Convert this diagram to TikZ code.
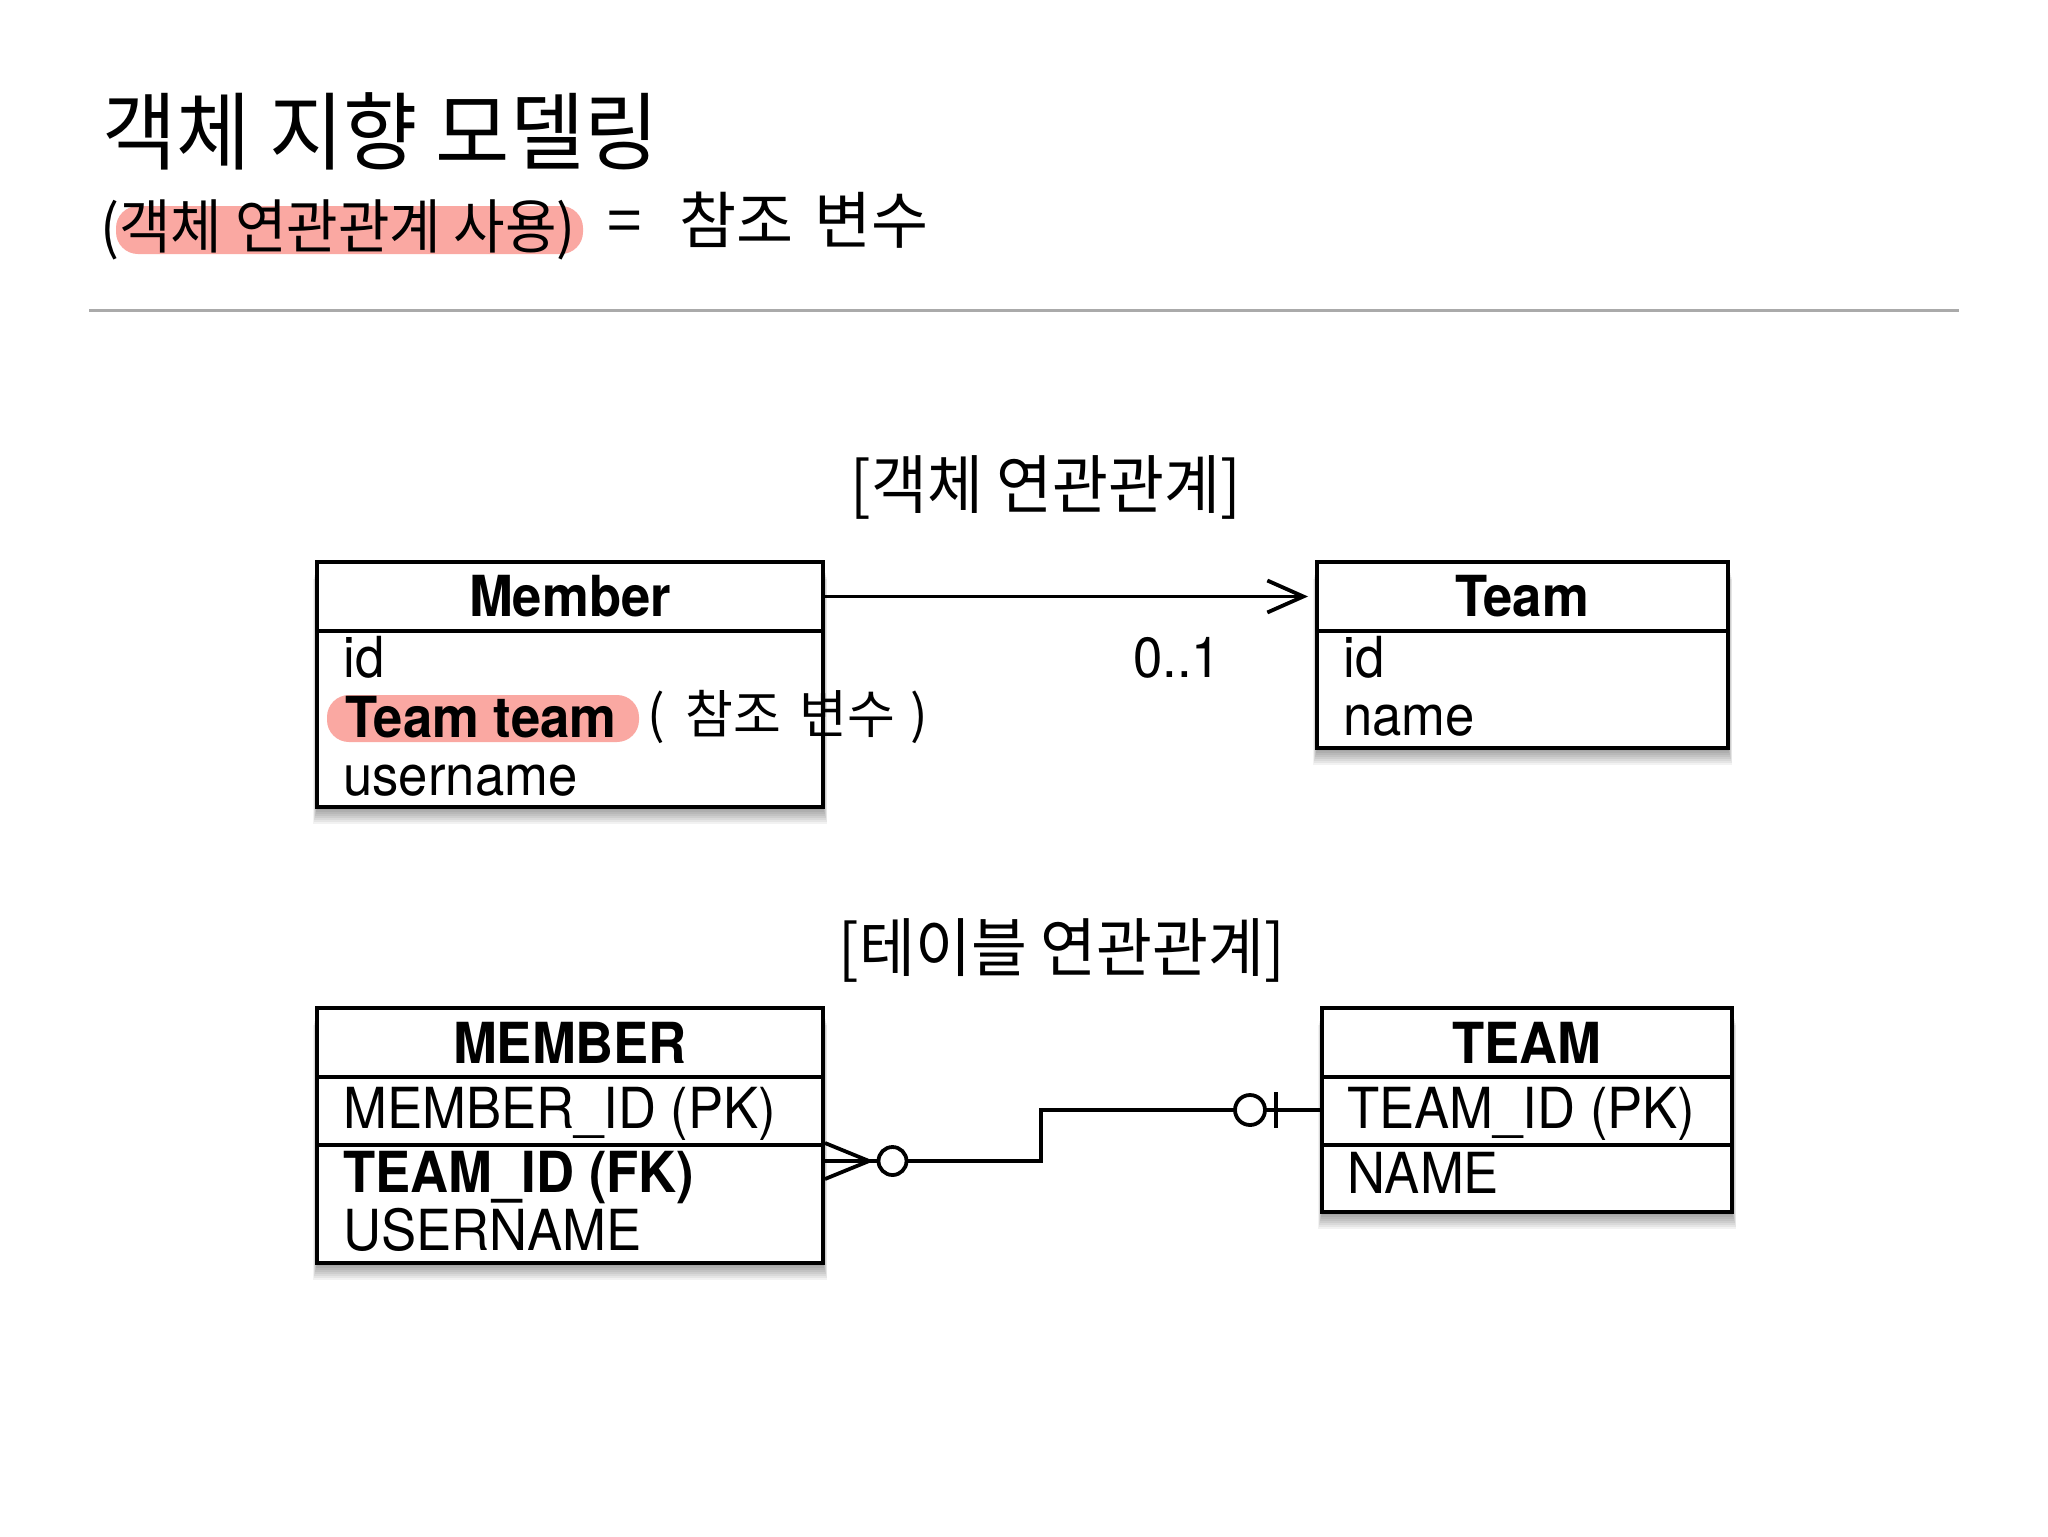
\documentclass[tikz,border=0pt]{standalone}
\usepackage{fontspec}
\setmainfont{TeX Gyre Heros}[FakeStretch=0.93]
\newfontfamily\kr{Noto Sans CJK KR}[FakeStretch=0.95]
\newfontfamily\krh{Noto Sans CJK KR}
\usetikzlibrary{arrows.meta,fit,calc}
\definecolor{hl}{RGB}{250,168,162}
\definecolor{sepgray}{RGB}{170,170,170}
\newcommand\myshadow[2]{%
  \foreach \k in {1,...,8}{%
    \fill[black,opacity=0.05] ($(#1)+(-0.5*\k,1+2*\k)$) rectangle ($(#2)+(0.5*\k,1+2*\k)$);
  }%
}
\begin{document}
\begin{tikzpicture}[x=0.5pt,y=-0.5pt,
  tbl/.style={draw,line width=2pt,fill=white,inner sep=0pt},
  divline/.style={line width=2pt},
  hdr/.style={font=\fontsize{28.3}{30}\selectfont\bfseries,inner sep=0pt},
  fld/.style={font=\fontsize{28.3}{30}\selectfont,inner sep=0pt,anchor=base west},
  fldb/.style={font=\fontsize{28.3}{30}\selectfont\bfseries,inner sep=0pt,anchor=base west},
  conn/.style={line width=1.9pt},
  sec/.style={font=\kr\fontsize{32}{34}\selectfont,inner sep=0pt},
  hand/.style={inner sep=0pt}]
\useasboundingbox (0,0) rectangle (2048,1536);
\fill[white] (0,0) rectangle (2048,1536);

% title area
\node[anchor=west,inner sep=0pt,font=\kr\fontsize{42.5}{44}\selectfont] (title) at (102,131.5) {객체 지향 모델링};
\fill[hl,rounded corners=11pt] (116,206) rectangle (583,254);
\node[anchor=west,inner sep=0pt,font=\kr\fontsize{29.5}{31}\selectfont] (subtitle) at (100,229.5) {(객체 연관관계 사용)};
\node[hand,anchor=west,font=\krh\fontsize{31}{33}\selectfont] (note1) at (607,220) {=\hspace{0.6em}참조\hspace{0.35em}변수};
\draw[line width=1.5pt,sepgray] (89,310) -- (1959,310);

% section labels
\node[sec] (sec1) at (1046,487.5) {[객체 연관관계]};
\node[sec] (sec2) at (1062,950) {[테이블 연관관계]};

% coordinates of boxes
\coordinate (m1) at (317,562);  \coordinate (m2) at (823,807);
\coordinate (t1) at (1317,562); \coordinate (t2) at (1728,748);
\coordinate (M1) at (317,1008); \coordinate (M2) at (823,1263);
\coordinate (T1) at (1322,1008); \coordinate (T2) at (1732,1212);

\myshadow{m1}{m2}
\myshadow{t1}{t2}
\myshadow{M1}{M2}
\myshadow{T1}{T2}

\node[tbl,fit=(m1)(m2)] (member) {};
\node[tbl,fit=(t1)(t2)] (team) {};
\node[tbl,fit=(M1)(M2)] (memtbl) {};
\node[tbl,fit=(T1)(T2)] (teamtbl) {};

\draw[divline] (member.west |- 0,631) -- (member.east |- 0,631);
\draw[divline] (team.west |- 0,631) -- (team.east |- 0,631);
\draw[divline] (memtbl.west |- 0,1077) -- (memtbl.east |- 0,1077);
\draw[divline] (memtbl.west |- 0,1145) -- (memtbl.east |- 0,1145);
\draw[divline] (teamtbl.west |- 0,1077) -- (teamtbl.east |- 0,1077);
\draw[divline] (teamtbl.west |- 0,1145) -- (teamtbl.east |- 0,1145);

% Member class
\node[hdr] (memberT) at (570,596.5) {Member};
\node[fld] (mId) at (343,677) {id};
\fill[hl,rounded corners=11pt] (327,695) rectangle (639,742);
\node[fldb] (mTeam) at (345,737) {Team team};
\node[fld] (mUser) at (343,795) {username};

% Team class
\node[hdr] (teamT) at (1522,596.5) {Team};
\node[fld] (tId) at (1343,677) {id};
\node[fld] (tName) at (1343,735) {name};

% association arrow
\draw[conn,-{Straight Barb[length=18pt,width=16pt]},shorten >=3.5pt] (memberT -| member.east) -- (teamT -| team.west);
\node[fld] (mult) at (1133,677) {0..1};

\node[hand,font=\krh\fontsize{26}{28}\selectfont] (note2) at (788,717) {(\hspace{0.4em}참조\hspace{0.35em}변수\hspace{0.3em})};

% MEMBER table
\node[hdr] (MT) at (570,1042.5) {MEMBER};
\node[fld] (MId) at (343,1128) {MEMBER\_ID (PK)};
\node[fldb] (MFk) at (343,1192) {TEAM\_ID (FK)};
\node[fld] (MUser) at (343,1250) {USERNAME};

% TEAM table
\node[hdr] (TT) at (1527,1042.5) {TEAM};
\node[fld] (TId) at (1347,1128) {TEAM\_ID (PK)};
\node[fld] (TName) at (1347,1193) {NAME};

% ER connector
\coordinate (fkend) at (memtbl.east |- 0,1161);
\coordinate (pkend) at (teamtbl.west |- 0,1110);
\coordinate (cftip) at (869,1161);
\coordinate (bendA) at (1041,1161);
\coordinate (bendB) at (1041,1110);
\coordinate (circA) at (892.5,1161);
\coordinate (circB) at (1250,1110);
\coordinate (barB) at (1276,1110);
\draw[conn] ($(fkend)+(0,-18)$) -- (cftip) -- ($(fkend)+(0,18)$);
\draw[conn] (fkend) -- (cftip);
\draw[conn] (cftip) -- (bendA) -- (bendB) -- (pkend);
\draw[conn,fill=white] (circA) circle[radius=14];
\draw[conn,fill=white] (circB) circle[radius=15];
\draw[conn] ($(barB)+(0,-18)$) -- ($(barB)+(0,18)$);
\end{tikzpicture}
\end{document}
